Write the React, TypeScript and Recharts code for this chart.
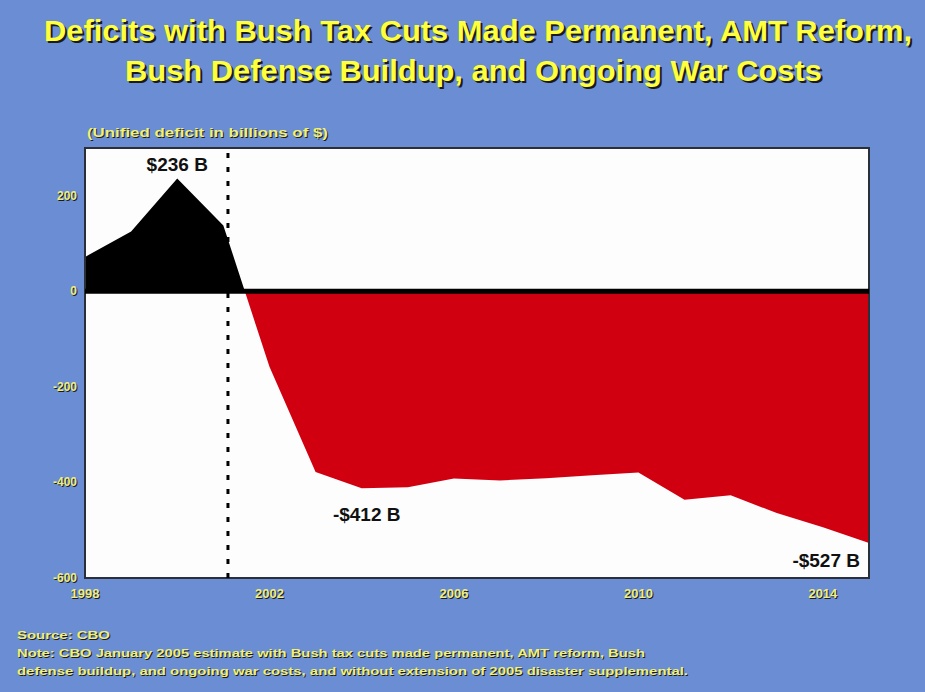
import { AreaChart, Area, XAxis, YAxis, CartesianGrid, ReferenceLine, ReferenceArea, LabelList } from 'recharts';

const years = [1998, 1999, 2000, 2001, 2002, 2003, 2004, 2005, 2006, 2007, 2008, 2009, 2010, 2011, 2012, 2013, 2014, 2015];
const deficits = [72, 125, 236, 138, -158, -378, -412, -410, -392, -396, -391, -385, -379, -436, -427, -464, -494, -527];
const xTicks = [1998, 2002, 2006, 2010, 2014];
const yTicks = [-600, -400, -200, 0, 200];
const callouts: Record<number, string> = { 2000: '$236 B', 2004: '-$412 B', 2015: '-$527 B' };

const titleLines = [
  'Deficits with Bush Tax Cuts Made Permanent, AMT Reform,',
  'Bush Defense Buildup, and Ongoing War Costs',
];
const unitLabel = '(Unified deficit in billions of $)';
const noteLines = [
  'Source: CBO',
  'Note: CBO January 2005 estimate with Bush tax cuts made permanent, AMT reform, Bush',
  'defense buildup, and ongoing war costs, and without extension of 2005 disaster supplemental.',
];

const data = years.map((year, i) => ({ year, value: deficits[i] }));

const FONT = '"Liberation Sans", Arial, sans-serif';
const BG = '#6a8dd3';
const TICK_YELLOW = '#eeee84';

const maxV = Math.max(...deficits);
const minV = Math.min(...deficits);
const splitOffset = maxV / (maxV - minV);

// drop shadow done the old way: dark copy underneath, offset a bit
function ShadowText({ x, y, children, fill, size, anchor = 'start', length, shadow = 1 }: any) {
  const common = {
    fontFamily: FONT,
    fontWeight: 700,
    fontSize: size,
    textAnchor: anchor,
    textLength: length,
    lengthAdjust: length ? 'spacingAndGlyphs' : undefined,
  };
  return (
    <g>
      <text x={x + shadow} y={y + shadow} fill="#1a1a1a" {...common}>{children}</text>
      <text x={x} y={y} fill={fill} {...common}>{children}</text>
    </g>
  );
}

const XTick = ({ x, y, payload }: any) => (
  <ShadowText x={x} y={y + 5} fill={TICK_YELLOW} size={13} anchor="middle">{payload.value}</ShadowText>
);

const YTick = ({ x, y, payload }: any) => (
  <ShadowText x={x} y={y + 4} fill={TICK_YELLOW} size={12} anchor="end">{payload.value}</ShadowText>
);

const Callout = ({ x, y, index }: any) => {
  const year = years[index];
  const text = callouts[year];
  if (!text) return null;
  const style = { fontFamily: FONT, fontWeight: 700, fontSize: 19, fill: '#111' };
  if (year === 2000) return <text x={x} y={y - 8} textAnchor="middle" {...style}>{text}</text>;
  if (year === 2004) return <text x={x + 5} y={y + 33} textAnchor="middle" {...style}>{text}</text>;
  return <text x={x - 9} y={y + 24} textAnchor="end" {...style}>{text}</text>;
};

export default function App() {
  return (
    <div style={{ position: 'absolute', left: 0, top: 0, width: 925, height: 692, background: BG, overflow: 'hidden' }}>
      <AreaChart width={925} height={692} data={data} margin={{ top: 148, right: 56, bottom: 84, left: 0 }}>
        <defs>
          <linearGradient id="splitFill" x1="0" y1="0" x2="0" y2="1">
            <stop offset={splitOffset} stopColor="#000000" />
            <stop offset={splitOffset} stopColor="#d10010" />
          </linearGradient>
        </defs>
        <CartesianGrid fill="#fdfdfd" horizontal={false} vertical={false} />
        <XAxis
          dataKey="year"
          type="number"
          domain={[1998, 2015]}
          ticks={xTicks}
          axisLine={false}
          tickLine={false}
          tickSize={0}
          tickMargin={15}
          height={30}
          tick={<XTick />}
        />
        <YAxis
          type="number"
          domain={[-600, 300]}
          ticks={yTicks}
          axisLine={false}
          tickLine={false}
          tickSize={0}
          tickMargin={8}
          width={85}
          tick={<YTick />}
        />
        <Area
          type="linear"
          dataKey="value"
          baseValue={0}
          stroke="none"
          fill="url(#splitFill)"
          fillOpacity={1}
          isAnimationActive={false}
        >
          <LabelList dataKey="value" content={<Callout />} />
        </Area>
        <ReferenceLine y={0} stroke="#000" strokeWidth={5} />
        <ReferenceLine x={2001.1} stroke="#000" strokeWidth={3} strokeDasharray="5 9" />
        <ReferenceArea x1={1998} x2={2015} y1={-600} y2={300} fill="none" stroke="#2b2f38" strokeWidth={2} />
      </AreaChart>
      <svg width={925} height={692} style={{ position: 'absolute', left: 0, top: 0, pointerEvents: 'none' }}>
        <ShadowText x={44} y={41} fill="#ffff3c" size={29} length={868} shadow={2}>{titleLines[0]}</ShadowText>
        <ShadowText x={125} y={81} fill="#ffff3c" size={29} length={697} shadow={2}>{titleLines[1]}</ShadowText>
        <ShadowText x={87} y={137} fill="#f0f07a" size={13} length={241}>{unitLabel}</ShadowText>
        <ShadowText x={17} y={639} fill="#f0f07a" size={11} length={93}>{noteLines[0]}</ShadowText>
        <ShadowText x={17} y={657} fill="#f0f07a" size={11} length={628}>{noteLines[1]}</ShadowText>
        <ShadowText x={17} y={675} fill="#f0f07a" size={11} length={671}>{noteLines[2]}</ShadowText>
      </svg>
    </div>
  );
}
